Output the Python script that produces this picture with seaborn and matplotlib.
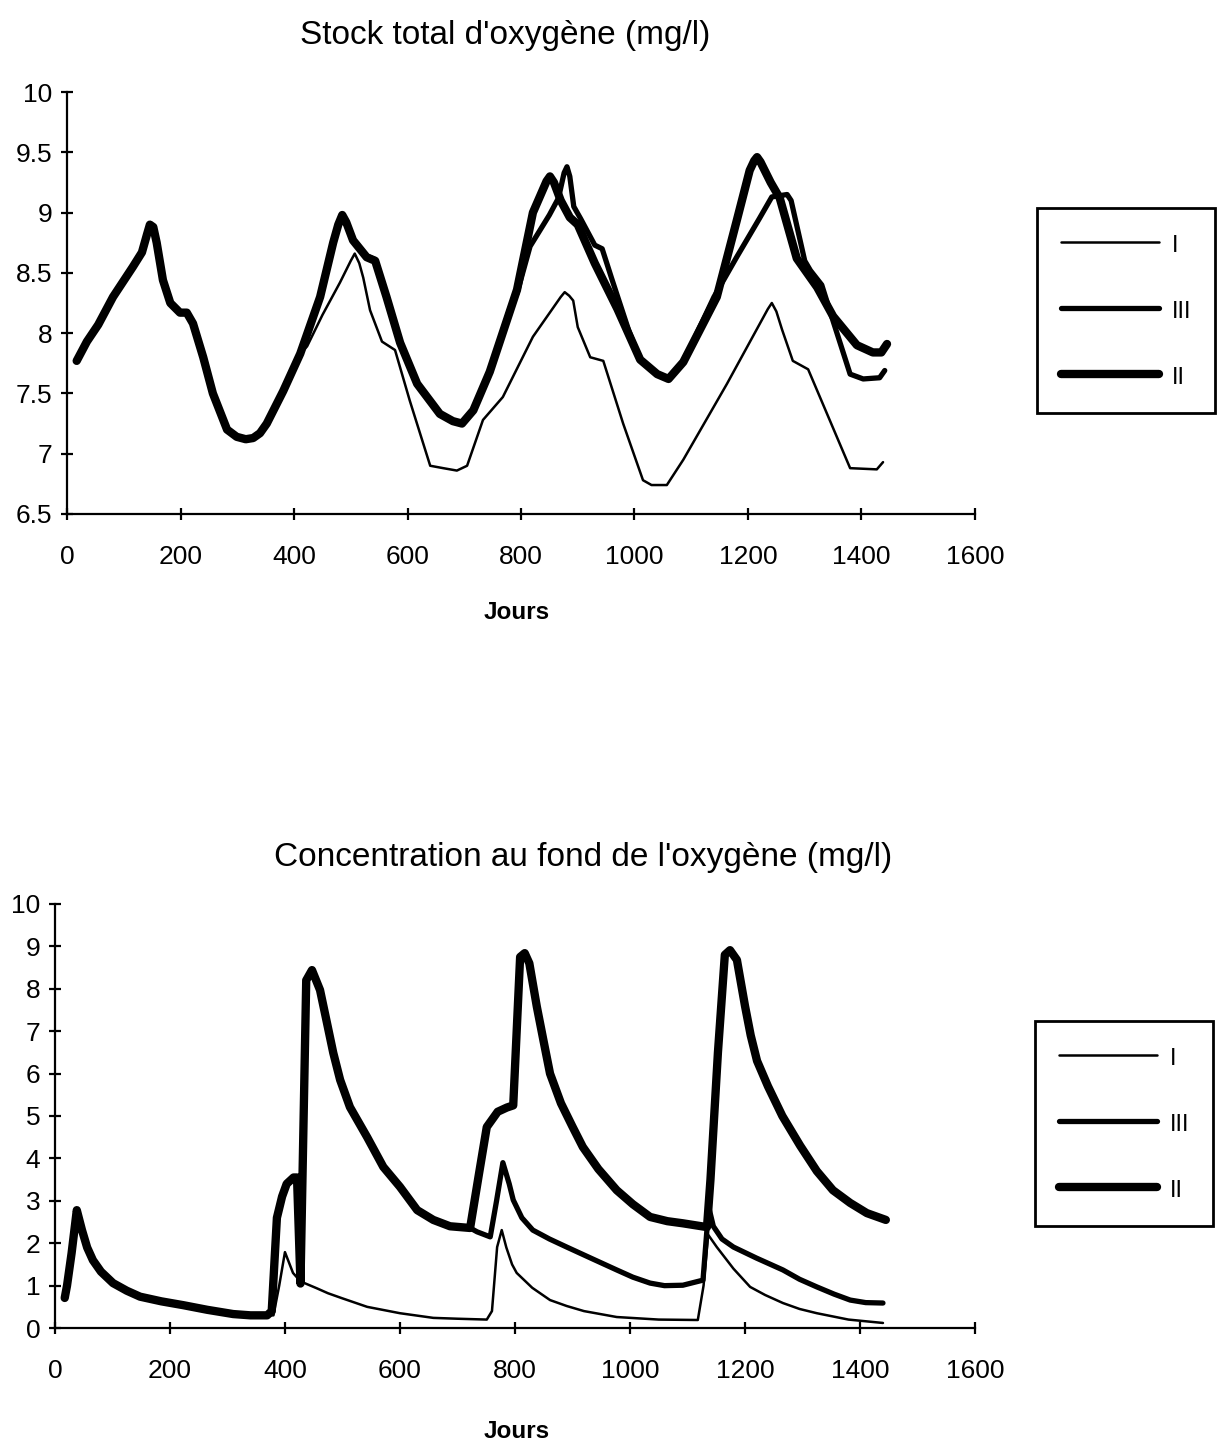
import numpy as np
import pandas as pd
import seaborn as sns
import matplotlib
matplotlib.use("Agg")
import matplotlib.pyplot as plt

## Data

# Stock total d'oxygene (mg/l) -- part shared by all runs before they split
stock_common_x = [17, 35, 55, 81, 116, 132, 141, 146, 152, 158, 169, 182, 199, 211, 222,
                  240, 257, 282, 299, 315, 328, 340, 352, 381, 411]
stock_common_y = [7.77, 7.93, 8.07, 8.3, 8.55, 8.67, 8.82, 8.9, 8.88, 8.75, 8.44, 8.25,
                  8.17, 8.17, 8.08, 7.8, 7.5, 7.2, 7.14, 7.12, 7.13, 7.17, 7.25, 7.52, 7.83]

stock_I_x = [423, 450, 481, 500, 507, 515, 522, 534, 555, 578, 604, 640, 663, 687, 705, 733,
             768, 821, 870, 877, 885, 892, 900, 922, 945, 980, 1015, 1030, 1057, 1086, 1163,
             1235, 1242, 1250, 1260, 1279, 1306, 1380, 1427, 1438]
stock_I_y = [7.89, 8.15, 8.42, 8.6, 8.66, 8.58, 8.46, 8.19, 7.93, 7.86, 7.44, 6.9, 6.88,
             6.86, 6.9, 7.28, 7.47, 7.97, 8.3, 8.34, 8.31, 8.27, 8.05, 7.8, 7.77, 7.25, 6.78,
             6.74, 6.74, 6.95, 7.58, 8.2, 8.25, 8.18, 8.03, 7.77, 7.7, 6.88, 6.87, 6.93]

stock_II_x = [446, 469, 478, 485, 492, 504, 528, 543, 563, 587, 617, 657, 680, 696, 716, 745,
              793, 821, 845, 851, 858, 870, 886, 900, 930, 970, 1010, 1040, 1060, 1086, 1145,
              1180, 1203, 1211, 1216, 1222, 1240, 1256, 1286, 1304, 1322, 1350, 1392, 1420,
              1435, 1445]
stock_II_y = [8.3, 8.75, 8.9, 8.98, 8.92, 8.77, 8.63, 8.6, 8.3, 7.92, 7.58, 7.33, 7.27, 7.25,
              7.36, 7.68, 8.36, 9.0, 9.26, 9.3, 9.25, 9.1, 8.96, 8.9, 8.58, 8.2, 7.78, 7.66,
              7.62, 7.76, 8.3, 8.93, 9.35, 9.43, 9.46, 9.42, 9.25, 9.12, 8.62, 8.5, 8.38, 8.14,
              7.9, 7.84, 7.84, 7.91]

stock_III_x = [446, 469, 478, 485, 492, 504, 528, 543, 563, 587, 617, 657, 680, 696, 716, 745,
               780, 793, 816, 850, 866, 876, 881, 886, 893, 905, 930, 943, 960, 990, 1010,
               1040, 1060, 1086, 1140, 1180, 1220, 1242, 1269, 1276, 1300, 1310, 1330, 1350,
               1380, 1403, 1432, 1441]
stock_III_y = [8.3, 8.73, 8.88, 8.94, 8.9, 8.78, 8.64, 8.61, 8.3, 7.92, 7.58, 7.33, 7.27,
               7.25, 7.36, 7.68, 8.2, 8.33, 8.72, 8.98, 9.12, 9.33, 9.38, 9.3, 9.05, 8.95, 8.73,
               8.7, 8.45, 8.02, 7.78, 7.66, 7.62, 7.76, 8.3, 8.63, 8.95, 9.13, 9.15, 9.1, 8.6,
               8.52, 8.4, 8.1, 7.66, 7.62, 7.63, 7.69]

# Concentration au fond de l'oxygene (mg/l)
fond_common_x = [17, 21, 29, 38, 47, 56, 66, 80, 101, 125, 148, 185, 223, 265, 310, 340, 369]
fond_common_y = [0.71, 1.0, 1.77, 2.78, 2.31, 1.9, 1.6, 1.33, 1.06, 0.88, 0.74, 0.63, 0.54,
                 0.43, 0.33, 0.3, 0.3]

fond_I_x = [380, 390, 400, 414, 427, 455, 475, 500, 543, 600, 658, 700, 751, 760, 769, 777,
            785, 795, 803, 830, 861, 890, 920, 977, 1050, 1118, 1128, 1136, 1151, 1180, 1209,
            1235, 1266, 1295, 1325, 1380, 1440]
fond_I_y = [0.3, 1.0, 1.79, 1.3, 1.1, 0.94, 0.82, 0.7, 0.5, 0.35, 0.24, 0.22, 0.2, 0.4, 1.91,
            2.31, 1.9, 1.5, 1.3, 0.95, 0.66, 0.52, 0.4, 0.26, 0.2, 0.19, 1.0, 2.2, 1.91, 1.4,
            0.97, 0.78, 0.59, 0.45, 0.35, 0.2, 0.12]

fond_II_x = [377, 386, 395, 403, 415, 421, 427, 437, 447, 461, 473, 484, 496, 513, 543, 571,
             600, 630, 658, 687, 722, 737, 751, 770, 786, 797, 809, 817, 825, 838, 850, 861,
             880, 900, 918, 945, 977, 1005, 1035, 1065, 1092, 1134, 1140, 1153, 1165, 1174,
             1186, 1200, 1210, 1221, 1240, 1265, 1296, 1325, 1353, 1383, 1412, 1445]
fond_II_y = [0.4, 2.6, 3.1, 3.4, 3.55, 3.55, 1.05, 8.2, 8.44, 7.97, 7.2, 6.49, 5.85, 5.21,
             4.5, 3.8, 3.33, 2.78, 2.55, 2.4, 2.36, 3.6, 4.74, 5.1, 5.2, 5.25, 8.75, 8.84, 8.6,
             7.58, 6.75, 6.0, 5.3, 4.75, 4.27, 3.75, 3.25, 2.92, 2.62, 2.52, 2.47, 2.38, 3.5,
             6.5, 8.8, 8.91, 8.68, 7.6, 6.9, 6.3, 5.7, 5.0, 4.3, 3.7, 3.25, 2.95, 2.71, 2.55]

fond_III_x = [377, 386, 395, 403, 415, 421, 427, 437, 447, 461, 473, 484, 496, 513, 543, 571,
              600, 630, 658, 687, 722, 734, 757, 768, 779, 790, 797, 812, 831, 860, 890, 935,
              977, 1005, 1035, 1060, 1092, 1127, 1132, 1137, 1145, 1160, 1180, 1220, 1266, 1295,
              1325, 1355, 1383, 1410, 1440]
fond_III_y = [0.4, 2.6, 3.1, 3.4, 3.55, 3.55, 1.05, 8.2, 8.44, 7.97, 7.2, 6.49, 5.85, 5.21,
              4.5, 3.8, 3.33, 2.78, 2.55, 2.4, 2.36, 2.27, 2.15, 3.0, 3.9, 3.4, 3.02, 2.6, 2.31,
              2.1, 1.91, 1.63, 1.37, 1.2, 1.06, 1.0, 1.01, 1.13, 2.0, 2.85, 2.4, 2.1, 1.91,
              1.65, 1.37, 1.15, 0.97, 0.8, 0.66, 0.6, 0.59]

xticks = [0, 200, 400, 600, 800, 1000, 1200, 1400, 1600]
stock_yticks = [6.5, 7, 7.5, 8, 8.5, 9, 9.5, 10]
stock_yticklabels = ['6.5', '7', '7.5', '8', '8.5', '9', '9.5', '10']
fond_yticks = [0, 1, 2, 3, 4, 5, 6, 7, 8, 9, 10]

series_order = ['I', 'III', 'II']
widths = {'I': 1.8, 'III': 3.8, 'II': 6.0}


def build_df(common_x, common_y, parts):
    rows = []
    for name, (xs, ys) in parts.items():
        for x, y in zip(list(common_x) + list(xs), list(common_y) + list(ys)):
            rows.append((name, x, y))
    return pd.DataFrame(rows, columns=['run', 'jours', 'o2'])


stock_df = build_df(stock_common_x, stock_common_y,
                    {'I': (stock_I_x, stock_I_y), 'III': (stock_III_x, stock_III_y),
                     'II': (stock_II_x, stock_II_y)})
fond_df = build_df(fond_common_x, fond_common_y,
                   {'I': (fond_I_x, fond_I_y), 'III': (fond_III_x, fond_III_y),
                    'II': (fond_II_x, fond_II_y)})

## Plot

sns.set_style('white')
plt.rcParams['font.family'] = ['Liberation Sans', 'DejaVu Sans']
plt.rcParams['text.color'] = 'black'

fig = plt.figure(figsize=(12.21, 14.47), dpi=100)
ax1 = fig.add_axes([0.0549, 0.6448, 0.7436, 0.2916])
ax2 = fig.add_axes([0.0450, 0.0822, 0.7535, 0.2931])


def draw(ax, df, yticks, yticklabels, ylim, leg_anchor):
    for name in series_order:
        sub = df[df['run'] == name]
        sns.lineplot(data=sub, x='jours', y='o2', ax=ax, color='black',
                     linewidth=widths[name], label=name, estimator=None,
                     solid_joinstyle='round', solid_capstyle='round')
    ax.set_xlim(0, 1600)
    ax.set_ylim(*ylim)
    ax.set_xticks(xticks)
    ax.set_xticklabels([str(t) for t in xticks])
    ax.set_yticks(yticks)
    ax.set_yticklabels(yticklabels)
    for s in ['top', 'right']:
        ax.spines[s].set_visible(False)
    for s in ['left', 'bottom']:
        ax.spines[s].set_linewidth(1.6)
        ax.spines[s].set_color('black')
    ax.tick_params(axis='both', bottom=True, left=True, direction='inout', length=9,
                   width=1.6, labelsize=19, colors='black')
    ax.tick_params(axis='x', pad=18)
    ax.tick_params(axis='y', pad=6)
    ax.set_xlabel('')
    ax.set_ylabel('')
    leg = ax.legend(loc='upper left', bbox_to_anchor=leg_anchor,
                    bbox_transform=fig.transFigure, borderaxespad=0,
                    fontsize=17, handlelength=4.15, handleheight=1.3,
                    handletextpad=0.55, labelspacing=1.7, borderpad=1.0,
                    fancybox=False, edgecolor='black', framealpha=1)
    leg.get_frame().set_linewidth(2)
    for line in leg.get_lines():
        line.set_solid_capstyle('round')


draw(ax1, stock_df, stock_yticks, stock_yticklabels, (6.5, 10), (0.8493, 0.8563))
draw(ax2, fond_df, fond_yticks, [str(t) for t in fond_yticks], (0, 10), (0.8477, 0.2944))

fig.text(0.4136, 0.9758, "Stock total d'oxygène (mg/l)", ha='center', va='center',
         fontsize=24, color='black')
fig.text(0.4775, 0.4077, "Concentration au fond de l'oxygène (mg/l)", ha='center',
         va='center', fontsize=24, color='black')
fig.text(0.4234, 0.5764, 'Jours', ha='center', va='center', fontsize=17.5,
         fontweight='bold', color='black')
fig.text(0.4234, 0.0104, 'Jours', ha='center', va='center', fontsize=17.5,
         fontweight='bold', color='black')

fig.savefig('out.png', dpi=100, facecolor='white')
